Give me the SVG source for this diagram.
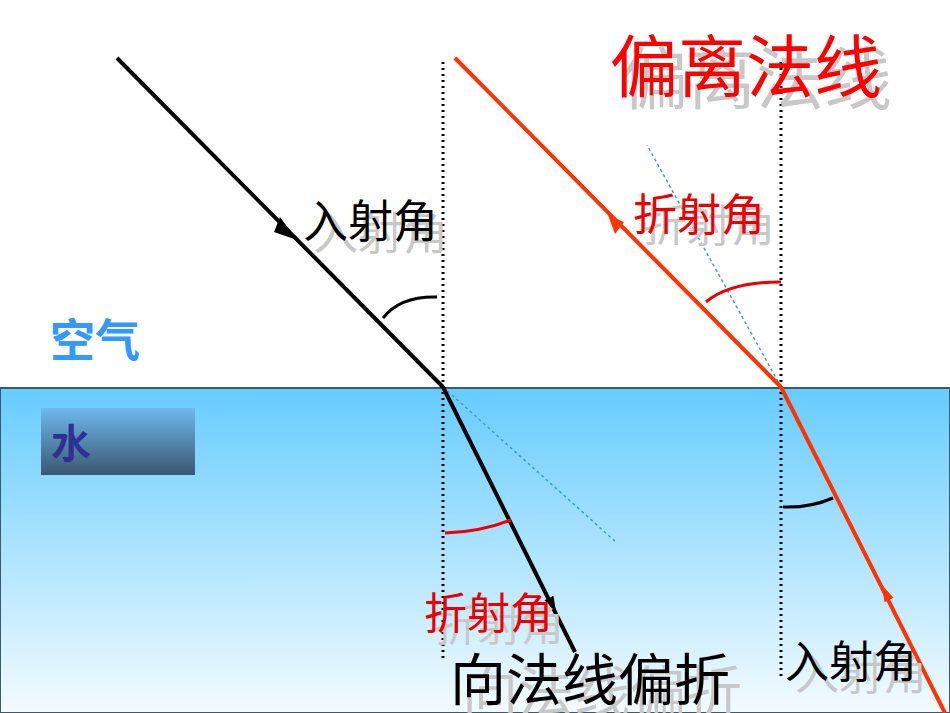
<svg xmlns="http://www.w3.org/2000/svg" width="950" height="713" viewBox="0 0 950 713">
<style>
.t{font-family:"Noto Sans CJK SC",sans-serif}
.sh{fill:#c8c8c8}
.nm{stroke:#000;stroke-width:3;stroke-dasharray:2 4;fill:none}
.bl{stroke:#3399ff;stroke-width:1.5;stroke-dasharray:3 3;fill:none}
</style>
<defs>
<linearGradient id="w" x1="0" y1="0" x2="0" y2="1"><stop offset="0" stop-color="#66ccff"/><stop offset="1" stop-color="#f4fbff"/></linearGradient>
<linearGradient id="b" x1="0" y1="0" x2="0" y2="1"><stop offset="0" stop-color="#6fb8ee"/><stop offset="1" stop-color="#3a5770"/></linearGradient>
</defs>
<rect x="0" y="388" width="950" height="325" fill="url(#w)" stroke="#3a5a70" stroke-width="2"/>
<g id="water-label"><rect x="41" y="408" width="154" height="67" fill="url(#b)"/><text class="t" x="51" y="458" font-size="40" font-weight="bold" fill="#2e3192">水</text></g>
<g id="air-label"><text class="t" x="50" y="357" font-size="45" font-weight="bold" fill="#3399ff">空气</text></g>
<g id="connectors">
<line class="nm" x1="443" y1="62" x2="443" y2="660"/>
<line class="nm" x1="781" y1="62" x2="781" y2="680"/>
<line class="bl" x1="443" y1="387" x2="617" y2="543"/>
<line class="bl" x1="781" y1="387" x2="647" y2="145"/>
<line x1="117" y1="58" x2="443" y2="387" stroke="#000" stroke-width="4"/>
<path d="M280,217L297,240L274,232z" fill="#000"/>
<line x1="443" y1="387" x2="575" y2="652" stroke="#000" stroke-width="4"/>
<path d="M556,612L553.5,595.8L544.5,600.2z" fill="#000"/>
<line x1="455" y1="58" x2="781" y2="387" stroke="#ff3300" stroke-width="4"/>
<path d="M608,215L624,222L615,234z" fill="#ff3300"/>
<line x1="781" y1="387" x2="945" y2="713" stroke="#ff3300" stroke-width="4"/>
<path d="M882,585L893.5,597.7L884.5,602.3z" fill="#ff3300"/>
<path d="M383,318Q400,296 437,297" stroke="#000" stroke-width="3" fill="none"/>
<path d="M445,533Q480,532 511,520" stroke="#ee0000" stroke-width="3" fill="none"/>
<path d="M706,302Q730,282 781,282" stroke="#ee0000" stroke-width="3" fill="none"/>
<path d="M783,507Q810,508 833,498" stroke="#000" stroke-width="3" fill="none"/>
</g>
<g id="labels">
<text class="t sh" x="620" y="104" font-size="68">偏离法线</text>
<text class="t" x="610" y="92" font-size="68" fill="#ff0000">偏离法线</text>
<text class="t sh" x="313" y="250" font-size="45">入射角</text>
<text class="t" x="303" y="238" font-size="45" fill="#000">入射角</text>
<text class="t sh" x="643" y="242" font-size="44">折射角</text>
<text class="t" x="633" y="231" font-size="44" fill="#ee0000">折射角</text>
<text class="t sh" x="435" y="641" font-size="43">折射角</text>
<text class="t" x="424" y="629" font-size="43" fill="#ee0000">折射角</text>
<text class="t sh" x="462" y="712" font-size="56">向法线偏折</text>
<text class="t" x="450" y="700" font-size="56" fill="#000">向法线偏折</text>
<text class="t sh" x="795" y="690" font-size="44">入射角</text>
<text class="t" x="785" y="678" font-size="44" fill="#000">入射角</text>
</g>
</svg>
